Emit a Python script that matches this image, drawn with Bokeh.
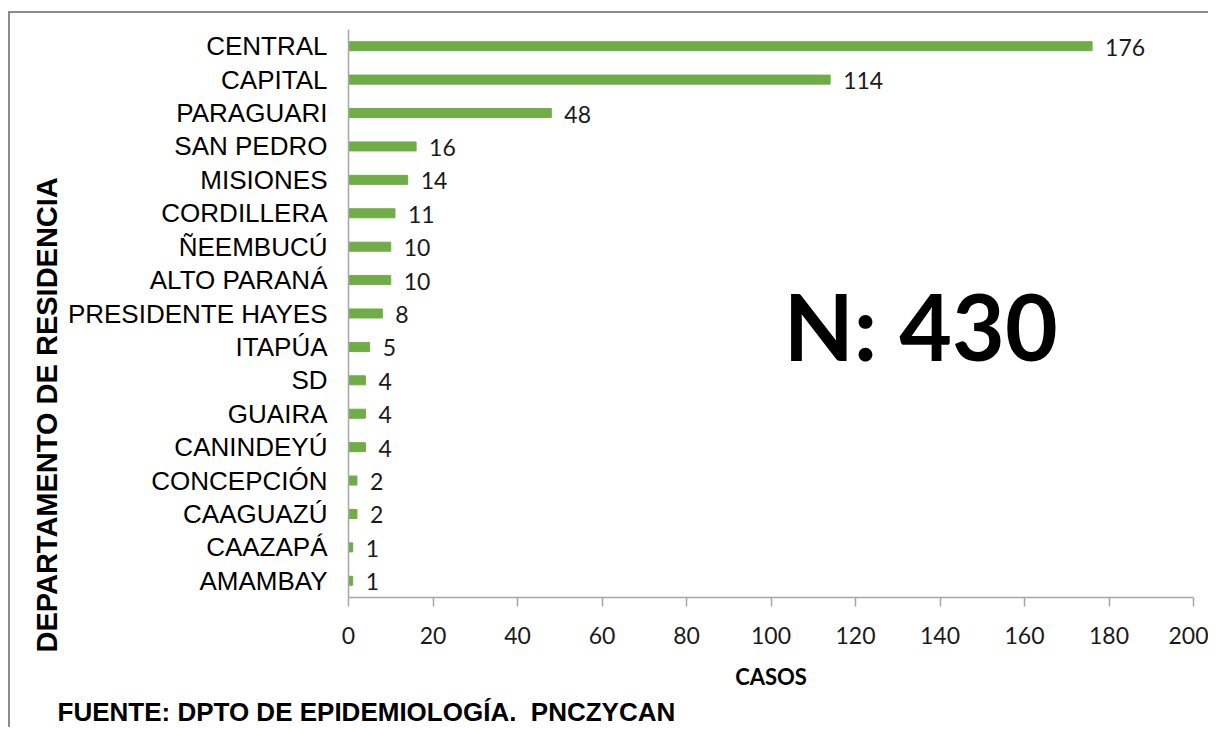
from bokeh.plotting import figure
from bokeh.models import Label, LabelSet, ColumnDataSource, FixedTicker, FactorRange, Range1d, Title
from bokeh.embed import file_html
from bokeh.resources import INLINE
from bokeh.core.properties import value

departamentos = ["CENTRAL", "CAPITAL", "PARAGUARI", "SAN PEDRO", "MISIONES", "CORDILLERA",
                 "ÑEEMBUCÚ", "ALTO PARANÁ", "PRESIDENTE HAYES", "ITAPÚA", "SD", "GUAIRA",
                 "CANINDEYÚ", "CONCEPCIÓN", "CAAGUAZÚ", "CAAZAPÁ", "AMAMBAY"]
casos = [176, 114, 48, 16, 14, 11, 10, 10, 8, 5, 4, 4, 4, 2, 2, 1, 1]
x_ticks = [0, 20, 40, 60, 80, 100, 120, 140, 160, 180, 200]
total_text = "N: 430"
x_title = "CASOS"
y_title = "DEPARTAMENTO DE RESIDENCIA"
fuente = "FUENTE: DPTO DE EPIDEMIOLOGÍA.\u00a0 PNCZYCAN"

src = ColumnDataSource(dict(dep=departamentos, casos=casos, lab=[str(c) for c in casos]))

p = figure(width=1200, height=716, output_backend="svg", toolbar_location=None,
           y_range=FactorRange(factors=list(reversed(departamentos)), range_padding=0),
           x_range=Range1d(0, 200),
           min_border_left=338, min_border_right=17, min_border_top=16, min_border_bottom=129)
p.outline_line_color = None
p.xgrid.grid_line_color = None
p.ygrid.grid_line_color = None

p.hbar(y="dep", right="casos", left=0, height=0.27, color="#70AD47", source=src)

p.add_layout(LabelSet(x="casos", y="dep", text="lab", source=src, x_offset=13, y_offset=-1,
                      text_baseline="middle", text_font=value("Lato"), text_font_size="23px",
                      text_color="#1a1a1a"))

ax = p.xaxis[0]
ax.ticker = FixedTicker(ticks=x_ticks)
ax.axis_line_color = "#a6a6a6"
ax.axis_line_width = 1.5
ax.major_tick_line_color = "#a6a6a6"
ax.major_tick_line_width = 1.5
ax.major_tick_out = 9
ax.major_tick_in = 0
ax.minor_tick_line_color = None
ax.major_label_text_font = "Lato"
ax.major_label_text_font_size = "23px"
ax.major_label_text_color = "#1a1a1a"
ax.major_label_standoff = 20
ax.axis_label = x_title
ax.axis_label_text_font = "Lato"
ax.axis_label_text_font_style = "bold"
ax.axis_label_text_font_size = "22px"
ax.axis_label_text_color = "black"
ax.axis_label_standoff = 16

ay = p.yaxis[0]
ay.axis_line_color = "#a6a6a6"
ay.axis_line_width = 1.5
ay.major_tick_line_color = None
ay.minor_tick_line_color = None
ay.major_label_text_font = "Liberation Sans"
ay.major_label_text_font_size = "26px"
ay.major_label_text_color = "black"
ay.major_label_standoff = 15

p.add_layout(Label(x=103, y=8.15, text=total_text, text_font="Lato", text_font_style="bold",
                   text_font_size="91px", text_color="black", text_baseline="middle"))

p.add_layout(Title(text=y_title, align="left", offset=-55, standoff=3,
                   text_font="Liberation Sans", text_font_style="bold",
                   text_font_size="29px", text_color="black"), "left")
p.add_layout(Title(text=fuente, align="left", offset=-291, standoff=5,
                   text_font="Liberation Sans", text_font_style="bold",
                   text_font_size="26px", text_color="black"), "below")

p.styles = {"margin-left": "8px", "margin-top": "11px",
            "border-left": "2px solid #8c8c8c", "border-top": "2px solid #8c8c8c"}

open("out.html", "w").write(file_html(p, INLINE))
